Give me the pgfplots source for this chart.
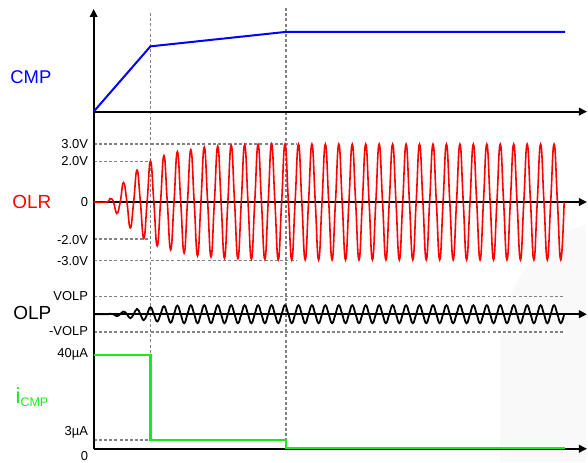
\documentclass[border=0pt]{standalone}
\usepackage{fontspec}
\setmainfont{Liberation Sans}
\usepackage{pgfplots}
\pgfplotsset{compat=1.18}
\usepackage{pgfplotstable}
\usetikzlibrary{arrows.meta}
\definecolor{cmpblue}{RGB}{0,0,255}
\definecolor{olrred}{RGB}{255,0,0}
\definecolor{igreen}{RGB}{25,235,25}
\definecolor{dgray}{RGB}{130,130,130}

% x = time (px), olr = OLR amplitude (px, up positive), olp = OLP amplitude (px)
\pgfplotstableread{
x olr olp
94 0 0
107.1 0 0
110.5 3.5 0.5
113.875 0 0
117.25 -11.5 -2
120.625 0 0
124 19.5 2.7
127.375 0 0
130.75 -26 -4
134.125 0 0
137.5 32 5.3
140.875 0 0
144.25 -36.5 -6
147.625 0 0
151 41 7
154.375 0 0
157.75 -44 -7.3
161.125 0 0
164.5 46.5 8
167.875 0 0
171.25 -48 -8.5
174.625 0 0
178 50.5 8.7
181.375 0 0
184.75 -51.3 -9
188.125 0 0
191.5 52.5 9
194.875 0 0
198.25 -54 -9
201.625 0 0
205 55 9
208.375 0 0
211.75 -55 -9
215.125 0 0
218.5 56 9
221.875 0 0
225.25 -56.3 -9
228.625 0 0
232 57 9
235.375 0 0
238.75 -56.7 -9
242.125 0 0
245.5 57.3 9
248.875 0 0
252.25 -57.3 -9
255.625 0 0
259 57.7 9
262.375 0 0
265.75 -57.5 -9
269.125 0 0
272.5 58 9
275.875 0 0
279.25 -57.8 -9
282.625 0 0
286 58 9
289.375 0 0
292.75 -58 -9
296.125 0 0
299.5 58 9
302.875 0 0
306.25 -58 -9
309.625 0 0
313 58 9
316.375 0 0
319.75 -58 -9
323.125 0 0
326.5 58 9
329.875 0 0
333.25 -58 -9
336.625 0 0
340 58 9
343.375 0 0
346.75 -58 -9
350.125 0 0
353.5 58 9
356.875 0 0
360.25 -58 -9
363.625 0 0
367 58 9
370.375 0 0
373.75 -58 -9
377.125 0 0
380.5 58 9
383.875 0 0
387.25 -58 -9
390.625 0 0
394 58 9
397.375 0 0
400.75 -58 -9
404.125 0 0
407.5 58 9
410.875 0 0
414.25 -58 -9
417.625 0 0
421 58 9
424.375 0 0
427.75 -58 -9
431.125 0 0
434.5 58 9
437.875 0 0
441.25 -58 -9
444.625 0 0
448 58 9
451.375 0 0
454.75 -58 -9
458.125 0 0
461.5 58 9
464.875 0 0
468.25 -58 -9
471.625 0 0
475 58 9
478.375 0 0
481.75 -58 -9
485.125 0 0
488.5 58 9
491.875 0 0
495.25 -58 -9
498.625 0 0
502 58 9
505.375 0 0
508.75 -58 -9
512.125 0 0
515.5 58 9
518.875 0 0
522.25 -58 -9
525.625 0 0
529 58 9
532.375 0 0
535.75 -58 -9
539.125 0 0
542.5 58 9
545.875 0 0
549.25 -58 -9
552.625 0 0
556 58 9
559.375 0 0
562.75 -58 -9
566.125 0 0
}\wave

\begin{document}
\begin{tikzpicture}
\begin{axis}[
  width=588pt, height=464pt, scale only axis,
  xmin=0, xmax=588, ymin=0, ymax=464, y dir=reverse,
  hide axis, clip=false,
]
\path (axis cs:0,0) rectangle (axis cs:588,464);
% faint background shape
\fill[gray!5] (axis cs:588,225) .. controls (axis cs:545,238) and (axis cs:505,280) .. (axis cs:502,345) -- (axis cs:502,464) -- (axis cs:588,464) -- cycle;

% dashed guide lines
\begin{scope}[dgray, line width=1.5pt, dash pattern=on 3pt off 2.2pt]
\draw (axis cs:151,13) -- (axis cs:151,442);
\draw (axis cs:287,8) -- (axis cs:287,442);
\draw (axis cs:94,144.7) -- (axis cs:297,144.7);
\draw (axis cs:94,162) -- (axis cs:151,162);
\draw (axis cs:94,240) -- (axis cs:151,240);
\draw (axis cs:94,261.3) -- (axis cs:297,261.3);
\draw (axis cs:94,297.3) -- (axis cs:567,297.3);
\draw (axis cs:94,333.3) -- (axis cs:567,333.3);
\draw (axis cs:94,441.7) -- (axis cs:287,441.7);
\end{scope}

% axes
\begin{scope}[black, line width=2.1pt, arrows={-Triangle[length=8pt,width=7.5pt]}]
\draw (axis cs:94,451) -- (axis cs:94,9);
\draw (axis cs:94,112) -- (axis cs:589,112);
\draw (axis cs:94,202.7) -- (axis cs:589,202.7);
\draw (axis cs:94,315.3) -- (axis cs:589,315.3);
\draw (axis cs:94,450.3) -- (axis cs:589,450.3);
\end{scope}

% signals
\addplot[cmpblue, line width=2pt] coordinates {(94,112) (151,46.5) (287,32) (567,32)};
\addplot[olrred, line width=1.6pt, smooth, tension=0.8] table[x=x, y expr=202.7-\thisrow{olr}] {\wave};
\addplot[black, line width=1.8pt, smooth, tension=0.8] table[x=x, y expr=315.3-\thisrow{olp}] {\wave};
\addplot[igreen, line width=2.2pt] coordinates {(94,356) (151,356) (151,441.7) (287,441.7) (287,449.6) (567,449.6)};

% left labels
\node[text=cmpblue, font=\fontsize{18.5}{20}\selectfont] at (axis cs:31,77) {CMP};
\node[text=olrred, font=\fontsize{19}{20}\selectfont] at (axis cs:32,202.5) {OLR};
\node[text=black, font=\fontsize{19}{20}\selectfont] at (axis cs:32.5,314.5) {OLP};
\node[text=igreen, anchor=base west, inner sep=0pt] at (axis cs:15.5,405) {\fontsize{22}{22}\selectfont i\raisebox{-3pt}{\fontsize{12.5}{13}\selectfont CMP}};

% value labels
\begin{scope}[font=\fontsize{13}{14}\selectfont, inner sep=0pt]
\node[anchor=east] at (axis cs:88.5,144.7) {3.0V};
\node[anchor=east] at (axis cs:88.5,162) {2.0V};
\node[anchor=east] at (axis cs:88.5,202.7) {0};
\node[anchor=east] at (axis cs:88.5,240.5) {-2.0V};
\node[anchor=east] at (axis cs:88.5,262) {-3.0V};
\node[anchor=east] at (axis cs:88.5,297) {VOLP};
\node[anchor=east] at (axis cs:88.5,332) {-VOLP};
\node[anchor=east] at (axis cs:88.5,356) {40µA};
\node[anchor=east] at (axis cs:88.5,433.5) {3µA};
\node[anchor=east] at (axis cs:88.5,457.5) {0};
\end{scope}
\end{axis}
\end{tikzpicture}
\end{document}
